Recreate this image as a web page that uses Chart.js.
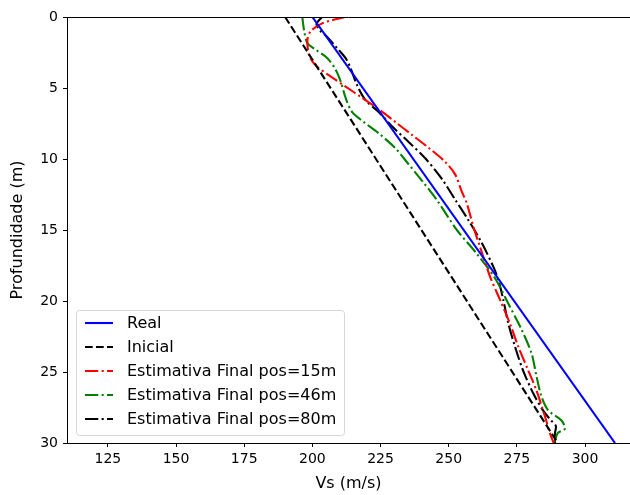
<!DOCTYPE html>
<html>
<head>
<meta charset="utf-8">
<script src="https://cdn.jsdelivr.net/npm/chart.js@4"></script>
<style>
  html, body { margin: 0; padding: 0; background: #fff; }
</style>
</head>
<body>
<canvas id="vsChart" width="630" height="495"></canvas>
<script>
/* =========================================
   Vs profile | depth (m) vs shear velocity
   ========================================= */

// axis ticks
const xTicks = [125, 150, 175, 200, 225, 250, 275, 300];
const yTicks = [0, 5, 10, 15, 20, 25, 30];

// Real profile
const depthReal = [0, 30];
const vsReal = [200, 311];

// Initial model
const depthInicial = [0, 30];
const vsInicial = [190, 290];

// Final estimate, pos=15m
const depthPos15 = [0, 0.45, 1.0, 1.6, 2.7, 3.4, 4.1, 4.9, 5.7, 6.5, 7.4, 8.3, 9.2, 10.2, 11.1, 12.3, 13.1, 14.8, 16.2, 18.3, 19.9, 21.6, 23.2, 24.9, 26.3, 27.7, 28.5, 29.3, 30];
const vsPos15 = [212, 203.6, 199.4, 198.2, 198.8, 201.2, 206, 212.2, 218.3, 224.4, 230.5, 236.5, 242.6, 248.7, 252.4, 254.8, 256.6, 259.1, 261.5, 265.2, 268.8, 272.5, 275.5, 279.2, 282.2, 284.6, 285.9, 287.1, 288.5];

// Final estimate, pos=46m
const depthPos46 = [0, 1.0, 1.85, 2.3, 2.9, 3.7, 4.55, 5.7, 6.7, 7.4, 8.2, 9.25, 10.3, 11.6, 12.9, 15.0, 16.6, 18.4, 20.2, 22.0, 23.7, 25.3, 26.7, 27.7, 28.4, 29.0, 29.3, 30];
const vsPos46 = [196.3, 197, 198.2, 201.2, 205.5, 208.5, 210.4, 212.2, 214.6, 218.9, 224.4, 230.5, 235, 240.5, 245.7, 253, 260, 267, 271.9, 276.7, 280.4, 282.2, 284, 286.5, 291.3, 292.6, 290, 288.7];

// Final estimate, pos=80m
const depthPos80 = [0, 0.5, 1.0, 1.3, 2.2, 2.9, 3.6, 4.8, 5.85, 6.7, 7.7, 8.8, 9.95, 11.4, 12.9, 14.3, 15.9, 17.6, 18.5, 19.9, 21.6, 23.2, 24.9, 26.5, 27.7, 28.4, 28.8, 29.3, 30];
const vsPos80 = [203.5, 201.5, 203, 204.9, 209.1, 212.2, 214, 216.4, 219.5, 224.4, 229.2, 235.3, 241.4, 247.5, 252.5, 257.2, 262.1, 266.4, 268.2, 270, 271.9, 274.3, 277.3, 281, 284.6, 287.5, 289.3, 289, 289];

const FONT = '"DejaVu Sans", sans-serif';
const DASHED = [7.7, 3.3];
const DASHDOT = [13.3, 3.3, 2.1, 3.3];

function zip(vs, depth) {
  return vs.map((v, i) => ({ x: v, y: depth[i] }));
}

function makeSet(label, vs, depth, color, dash, tension) {
  return {
    label: label,
    data: zip(vs, depth),
    borderColor: color,
    backgroundColor: color,
    borderWidth: 2.1,
    borderDash: dash,
    pointRadius: 0,
    showLine: true,
    fill: false,
    tension: tension
  };
}

// matplotlib-like legend box in the lower left corner
const legendBox = {
  id: 'legendBox',
  afterDraw(chart) {
    const ctx = chart.ctx;
    ctx.save();
    ctx.beginPath();
    ctx.roundRect(76.5, 310.5, 268, 125, 3);
    ctx.fillStyle = 'rgba(255,255,255,0.8)';
    ctx.fill();
    ctx.strokeStyle = '#d6d6d6';
    ctx.lineWidth = 1;
    ctx.stroke();

    ctx.font = '16px ' + FONT;
    ctx.textBaseline = 'middle';
    chart.data.datasets.forEach((ds, i) => {
      const y = 323 + i * 24;
      ctx.beginPath();
      ctx.setLineDash(ds.borderDash || []);
      ctx.strokeStyle = ds.borderColor;
      ctx.lineWidth = ds.borderWidth;
      ctx.moveTo(85, y);
      ctx.lineTo(113, y);
      ctx.stroke();
      ctx.setLineDash([]);
      ctx.fillStyle = '#000';
      ctx.fillText(ds.label, 127, y + 1);
    });
    ctx.restore();
  }
};

// top spine
const topSpine = {
  id: 'topSpine',
  afterDraw(chart) {
    const { ctx, chartArea } = chart;
    ctx.save();
    ctx.strokeStyle = '#000';
    ctx.lineWidth = 1;
    ctx.beginPath();
    ctx.moveTo(chartArea.left, chartArea.top + 0.5);
    ctx.lineTo(chartArea.right, chartArea.top + 0.5);
    ctx.stroke();
    ctx.restore();
  }
};

const chart = new Chart(document.getElementById('vsChart'), {
  type: 'scatter',
  data: {
    datasets: [
      makeSet('Real', vsReal, depthReal, '#0000ff', [], 0),
      makeSet('Inicial', vsInicial, depthInicial, '#000000', DASHED, 0),
      makeSet('Estimativa Final pos=15m', vsPos15, depthPos15, '#ff0000', DASHDOT, 0.3),
      makeSet('Estimativa Final pos=46m', vsPos46, depthPos46, '#008000', DASHDOT, 0.3),
      makeSet('Estimativa Final pos=80m', vsPos80, depthPos80, '#000000', DASHDOT, 0.3)
    ]
  },
  options: {
    responsive: false,
    animation: false,
    layout: { padding: { top: 17, right: 0, left: 0, bottom: 0 } },
    plugins: {
      legend: { display: false },
      tooltip: { enabled: false }
    },
    scales: {
      x: {
        type: 'linear',
        min: 110,
        max: 316.5,
        afterBuildTicks: s => { s.ticks = xTicks.map(v => ({ value: v })); },
        afterFit: s => { s.height = 52; },
        grid: { drawOnChartArea: false, drawTicks: true, tickLength: 4, color: '#000' },
        border: { display: true, color: '#000', width: 1 },
        ticks: { color: '#000', font: { family: FONT, size: 14 }, padding: 4, maxRotation: 0 },
        title: { display: true, text: 'Vs (m/s)', color: '#000', font: { family: FONT, size: 16 }, padding: { top: 0, bottom: 2 } }
      },
      y: {
        type: 'linear',
        reverse: true,
        min: 0,
        max: 30,
        afterBuildTicks: s => { s.ticks = yTicks.map(v => ({ value: v })); },
        afterFit: s => { s.width = 67; },
        grid: { drawOnChartArea: false, drawTicks: true, tickLength: 4, color: '#000' },
        border: { display: true, color: '#000', width: 1 },
        ticks: { color: '#000', font: { family: FONT, size: 14 }, padding: 5 },
        title: { display: true, text: 'Profundidade (m)', color: '#000', font: { family: FONT, size: 16 }, padding: { top: 8, bottom: 0 } }
      }
    }
  },
  plugins: [legendBox, topSpine]
});
</script>
</body>
</html>
